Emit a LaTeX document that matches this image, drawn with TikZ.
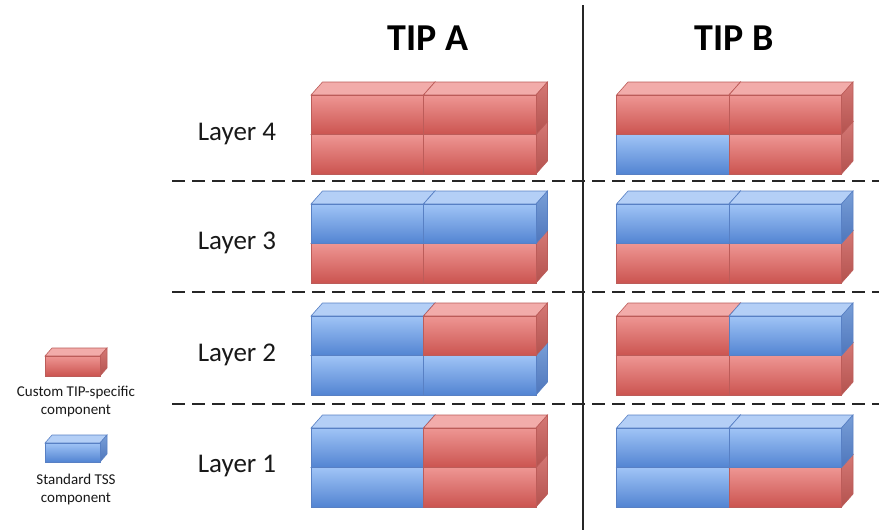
\documentclass[tikz,border=0pt]{standalone}
\usepackage{fontspec}
\setmainfont{Carlito}
\definecolor{redtop}{RGB}{242,172,170}
\definecolor{redft}{RGB}{238,150,147}
\definecolor{redfb}{RGB}{203,84,80}
\definecolor{redst}{RGB}{212,120,117}
\definecolor{redsb}{RGB}{180,82,78}
\definecolor{rededge}{RGB}{188,92,89}
\definecolor{bluetop}{RGB}{180,207,246}
\definecolor{blueft}{RGB}{160,196,246}
\definecolor{bluefb}{RGB}{82,132,210}
\definecolor{bluest}{RGB}{120,158,215}
\definecolor{bluesb}{RGB}{78,118,188}
\definecolor{blueedge}{RGB}{88,128,196}
\definecolor{txt}{RGB}{25,25,25}
\tikzset{
  edgeline/.style={line width=0.6pt},
  layerlabel/.style={font=\fontsize{27}{30}\selectfont, text=txt},
  titlelabel/.style={font=\fontsize{38}{40}\selectfont\bfseries, text=black},
  legendlabel/.style={font=\fontsize{15}{18}\selectfont, text=txt, align=center},
  separator/.style={line width=2pt, dash pattern=on 13pt off 7pt, black!85},
}
% #1 x, #2 y (front top-left), #3 colour prefix, #4 width, #5 height, #6 dx, #7 dy
\newcommand\mybrick[7]{%
  \begin{scope}[shift={(#1,#2)}]
    \path[edgeline, draw=#3edge, fill=#3top] (0,0) -- (#6,-#7) -- ({#4+#6},-#7) -- (#4,0) -- cycle;
    \path[edgeline, draw=#3edge, top color=#3st, bottom color=#3sb] (#4,0) -- ({#4+#6},-#7) -- ({#4+#6},{#5-#7}) -- (#4,#5) -- cycle;
    \path[edgeline, draw=#3edge, top color=#3ft, bottom color=#3fb] (0,0) rectangle (#4,#5);
  \end{scope}}
\newcommand\bb[3]{\mybrick{#1}{#2}{#3}{112.5}{39.5}{11.5}{13}}
% one stack: x, ytop, topleft, topright, bottomleft, bottomright
\newcommand\stack[6]{%
  \bb{#1}{#2+39.5}{#5}\bb{#1+112.5}{#2+39.5}{#6}%
  \bb{#1}{#2}{#3}\bb{#1+112.5}{#2}{#4}}
\begin{document}
\begin{tikzpicture}[x=1pt,y=-1pt]
  \fill[white] (0,0) rectangle (879,530);
  \useasboundingbox (0,0) rectangle (879,530);
  % titles
  \node[titlelabel] (tipa) at (428,38) {TIP A};
  \node[titlelabel] (tipb) at (734,38) {TIP B};
  % vertical divider
  \coordinate (vtop) at (583,5);
  \coordinate (vbot) at (583,530);
  \draw[line width=1.6pt, black!85] (vtop) -- (vbot);
  % dashed separators
  \foreach \yy/\nm in {181/s3,292/s2,404/s1}{
    \coordinate (\nm a) at (172,\yy);
    \coordinate (\nm b) at (879,\yy);
    \draw[separator] (\nm a) -- (\nm b);
  }
  % layer labels
  \node[layerlabel] (l4) at (237,134) {Layer 4};
  \node[layerlabel] (l3) at (237,243) {Layer 3};
  \node[layerlabel] (l2) at (237,355) {Layer 2};
  \node[layerlabel] (l1) at (237,466) {Layer 1};
  % TIP A stacks
  \stack{311}{95}{red}{red}{red}{red}
  \stack{311}{204}{blue}{blue}{red}{red}
  \stack{311}{316}{blue}{red}{blue}{blue}
  \stack{311}{428}{blue}{red}{blue}{red}
  % TIP B stacks
  \stack{616.5}{95}{red}{red}{blue}{red}
  \stack{616.5}{204}{blue}{blue}{red}{red}
  \stack{616.5}{316}{red}{blue}{red}{red}
  \stack{616.5}{428}{blue}{blue}{blue}{red}
  % legend
  \mybrick{45}{356}{red}{55}{20}{7}{8}
  \node[legendlabel] (lgr) at (76,402) {Custom TIP-specific\\component};
  \mybrick{45}{443}{blue}{55}{19}{7}{8}
  \node[legendlabel] (lgb) at (76,489) {Standard TSS\\component};
\end{tikzpicture}
\end{document}
